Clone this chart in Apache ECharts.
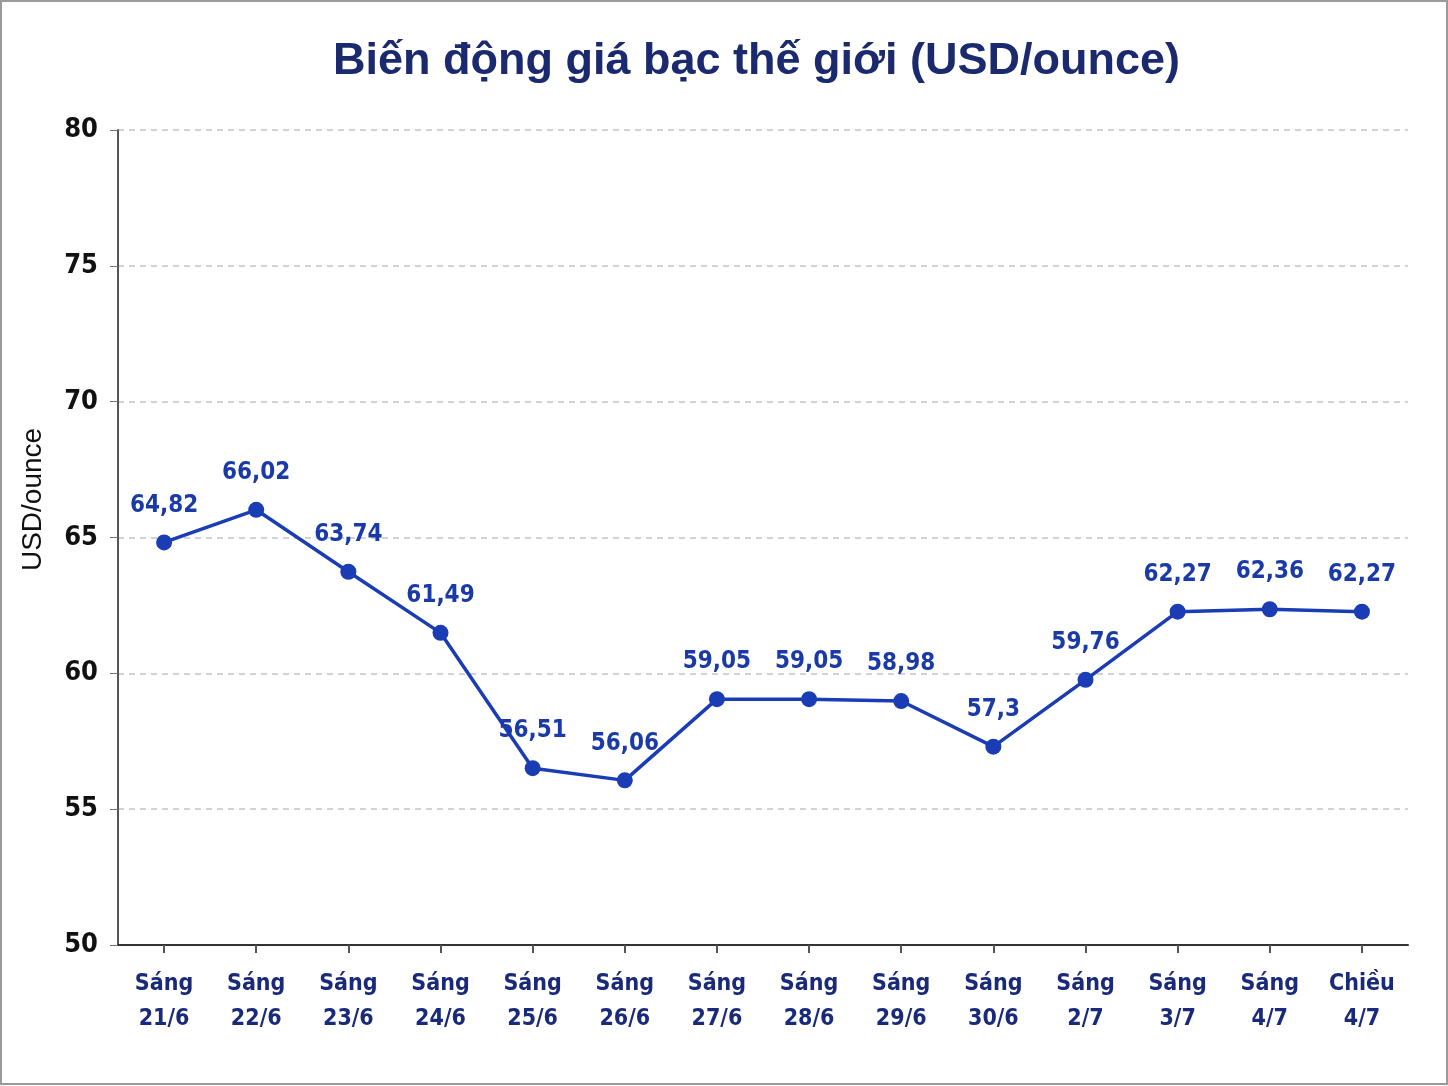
<!DOCTYPE html>
<html>
<head>
<meta charset="utf-8">
<script src="https://cdn.jsdelivr.net/npm/echarts@6/dist/echarts.min.js"></script>
<style>
html, body { margin: 0; padding: 0; background: #fff; }
#chart { width: 1448px; height: 1086px; }
</style>
</head>
<body>
<div id="chart"></div>
<script>
const categories = ['Sáng\n21/6', 'Sáng\n22/6', 'Sáng\n23/6', 'Sáng\n24/6', 'Sáng\n25/6', 'Sáng\n26/6', 'Sáng\n27/6',
    'Sáng\n28/6', 'Sáng\n29/6', 'Sáng\n30/6', 'Sáng\n2/7', 'Sáng\n3/7', 'Sáng\n4/7', 'Chiều\n4/7'];
const prices = [64.82, 66.02, 63.74, 61.49, 56.51, 56.06, 59.05, 59.05, 58.98, 57.3, 59.76, 62.27, 62.36, 62.27];
const yTicks = [50, 55, 60, 65, 70, 75, 80];

const narrow = "'Liberation Sans Narrow', 'DejaVu Sans Condensed', 'Roboto', sans-serif";
const chart = echarts.init(document.getElementById('chart'));
chart.setOption({
    animation: false,
    backgroundColor: '#fff',
    title: {
        text: 'Biến động giá bạc thế giới (USD/ounce)',
        left: 328,
        top: 34,
        textStyle: {
            color: '#1b2a6e',
            fontSize: 45,
            fontWeight: 'bold',
            fontFamily: "'Liberation Sans', 'Roboto', sans-serif"
        }
    },
    graphic: [{
        type: 'rect',
        shape: { x: 1, y: 1, width: 1446, height: 1083 },
        style: { fill: 'none', stroke: '#9a9a9a', lineWidth: 2 }
    }],
    grid: { left: 118, right: 40, top: 130, bottom: 141 },
    xAxis: {
        type: 'category',
        data: categories,
        boundaryGap: true,
        axisLine: { show: true, lineStyle: { color: '#333', width: 2 } },
        axisTick: { show: true, alignWithLabel: true, length: 8, lineStyle: { color: '#555', width: 2 } },
        axisLabel: {
            color: '#1a2a7a',
            fontSize: 23,
            fontWeight: 'bold',
            fontFamily: narrow,
            lineHeight: 35,
            margin: 22
        }
    },
    yAxis: {
        type: 'value',
        min: 50,
        max: 80,
        interval: 5,
        name: 'USD/ounce',
        nameLocation: 'middle',
        nameRotate: 90,
        nameGap: 71,
        nameTextStyle: {
            color: '#111',
            fontSize: 28,
            fontFamily: "'Liberation Sans', sans-serif",
            padding: [0, 0, 0, 76]
        },
        axisLine: { show: true, lineStyle: { color: '#555', width: 2 } },
        axisTick: { show: true, length: 8, lineStyle: { color: '#777' } },
        axisLabel: {
            color: '#111',
            fontSize: 27,
            fontWeight: 'bold',
            fontFamily: narrow,
            margin: 20,
            formatter: function (v) { return yTicks.indexOf(v) >= 0 ? String(v) : ''; }
        },
        splitLine: { show: true, lineStyle: { color: '#c4c4c4', type: [6, 5], width: 1.5 } }
    },
    series: [{
        type: 'line',
        data: prices,
        symbol: 'circle',
        symbolSize: 16,
        lineStyle: { color: '#1a3cb5', width: 3.5 },
        itemStyle: { color: '#1a3cb5' },
        label: {
            show: true,
            position: 'top',
            distance: 17,
            color: '#1a3aa8',
            fontSize: 24,
            fontWeight: 'bold',
            fontFamily: narrow,
            formatter: function (p) { return String(p.value).replace('.', ','); }
        }
    }]
});
</script>
</body>
</html>
